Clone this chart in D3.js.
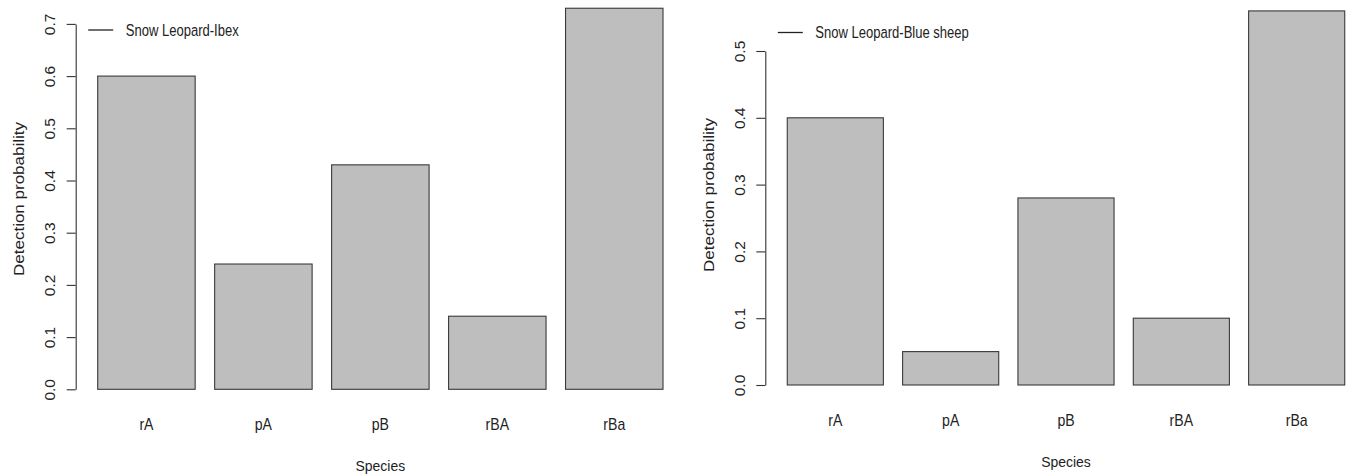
<!DOCTYPE html>
<html lang="en">
<head>
    <meta charset="UTF-8">
    <title>Detection probability</title>
    <script src="https://d3js.org/d3.v7.min.js"></script>
    <style>
        body { margin: 0; background: #fff; }
        svg text { font-family: "Liberation Sans", Arial, sans-serif; fill: #222; }
    </style>
</head>
<body>
    <script>
        // values
        const species = ["rA", "pA", "pB", "rBA", "rBa"];
        const ibexValues = [0.60, 0.24, 0.43, 0.14, 0.73];
        const sheepValues = [0.40, 0.05, 0.28, 0.10, 0.56];
        const ibexTicks = [0, 0.1, 0.2, 0.3, 0.4, 0.5, 0.6, 0.7];
        const sheepTicks = [0, 0.1, 0.2, 0.3, 0.4, 0.5];
        const legendLabels = ["Snow Leopard-Ibex", "Snow Leopard-Blue sheep"];
        const xTitle = "Species";
        const yTitle = "Detection probability";

        const w = 1352;
        const h = 476;

        const svg = d3.select("body")
            .append("svg")
            .attr("width", w)
            .attr("height", h);

        // one panel = one R-style barplot
        function drawPanel(values, ticks, label, box) {
            const g = svg.append("g");

            const xScale = d3.scaleBand()
                .domain(species)
                .range([box.left, box.right])
                .paddingInner(1 / 6)
                .paddingOuter(0.2);

            const yScale = d3.scaleLinear()
                .domain([0, d3.max(ticks)])
                .range([box.zero, box.top]);

            g.selectAll("rect")
                .data(values)
                .enter()
                .append("rect")
                .attr("x", (d, i) => xScale(species[i]))
                .attr("y", (d) => yScale(d))
                .attr("width", xScale.bandwidth())
                .attr("height", (d) => yScale(0) - yScale(d))
                .attr("fill", "#bebebe")
                .attr("stroke", "#3a3a3a")
                .attr("stroke-width", 1.1);

            const yAxis = d3.axisLeft(yScale)
                .tickValues(ticks)
                .tickFormat(d3.format(".1f"))
                .tickSize(9)
                .tickSizeOuter(0);

            const ax = g.append("g")
                .attr("transform", "translate(" + box.axisX + ",0)")
                .call(yAxis);
            ax.select(".domain").attr("stroke", "#333").attr("stroke-width", 1.1);
            ax.selectAll(".tick line").attr("stroke", "#333").attr("stroke-width", 1.1);
            ax.selectAll(".tick text")
                .attr("x", null)
                .attr("dy", null)
                .attr("transform", "translate(-25,0) scale(0.9,1) rotate(-90)")
                .attr("text-anchor", "middle")
                .attr("dominant-baseline", "central")
                .attr("font-size", 15.5)
                .attr("fill", "#222");

            // category labels under bars
            g.selectAll("text.cat")
                .data(species)
                .enter()
                .append("text")
                .attr("class", "cat")
                .attr("transform", (d) => "translate(" + (xScale(d) + xScale.bandwidth() / 2) + "," + (box.zero + 41) + ") scale(0.88,1)")
                .attr("text-anchor", "middle")
                .attr("font-size", 16)
                .text((d) => d);

            const midX = (box.left + box.right) / 2;
            g.append("text")
                .attr("transform", "translate(" + midX + "," + (box.zero + 81.5) + ") scale(0.9,1)")
                .attr("text-anchor", "middle")
                .attr("font-size", 15.5)
                .text(xTitle);

            g.append("text")
                .attr("transform", "translate(" + (box.axisX - 57) + "," + box.titleY + ") scale(0.9,1) rotate(-90)")
                .attr("text-anchor", "middle")
                .attr("dominant-baseline", "central")
                .attr("font-size", 17)
                .text(yTitle);

            // legend, top-left of the plot region
            g.append("line")
                .attr("x1", box.axisX + 12.5)
                .attr("x2", box.axisX + 37.5)
                .attr("y1", box.legendY)
                .attr("y2", box.legendY)
                .attr("stroke", "#222")
                .attr("stroke-width", 1.3);

            g.append("text")
                .attr("transform", "translate(" + (box.axisX + 50) + "," + box.legendY + ") scale(0.79,1)")
                .attr("dominant-baseline", "central")
                .attr("font-size", 16.5)
                .text(label);
        }

        drawPanel(ibexValues, ibexTicks, legendLabels[0],
            { left: 74.3, right: 686.4, zero: 389.3, top: 23.9, axisX: 75.7, titleY: 199, legendY: 30 });
        drawPanel(sheepValues, sheepTicks, legendLabels[1],
            { left: 764.2, right: 1367.8, zero: 385, top: 51, axisX: 765.3, titleY: 195, legendY: 32.5 });
    </script>
</body>
</html>
